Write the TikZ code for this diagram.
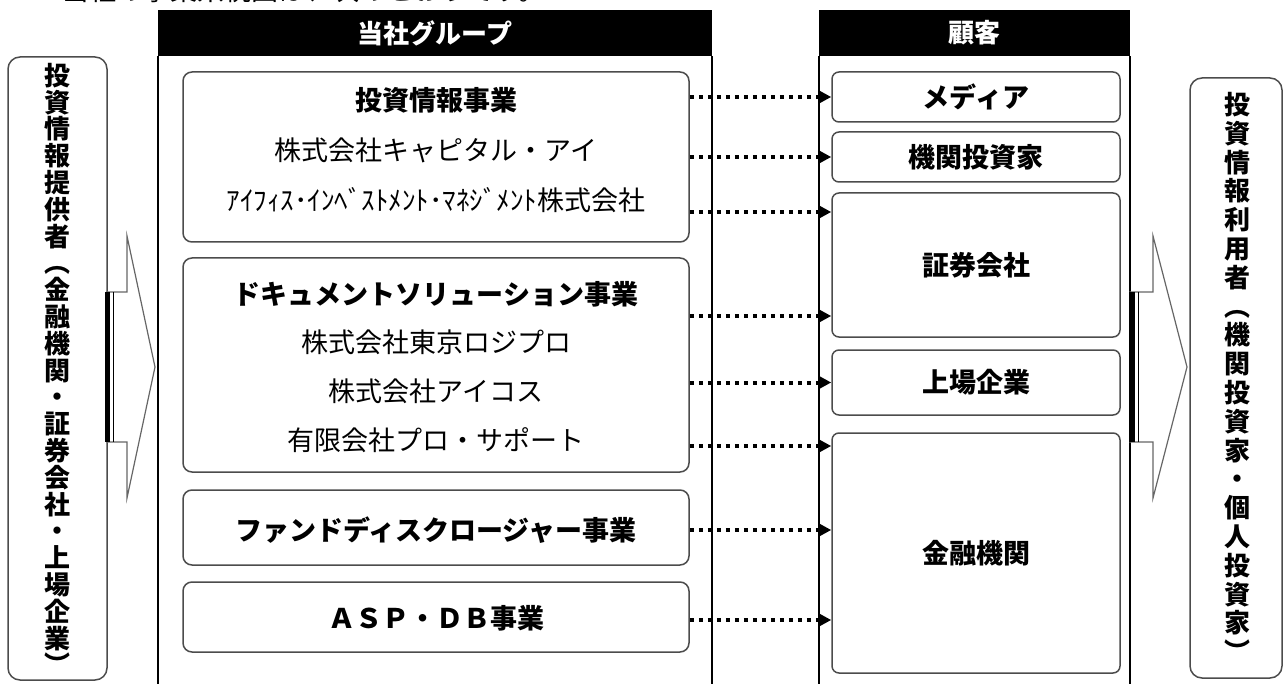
\documentclass[tikz,border=0pt]{standalone}
\usepackage{fontspec}
\setmainfont{Noto Sans CJK JP}
\usetikzlibrary{arrows.meta}

\begin{document}
\begin{tikzpicture}[x=1pt,y=-1pt,
		grp/.style={draw=black!70,line width=1.5pt,rounded corners=9pt,inner sep=0pt,minimum width=506pt},
		cust/.style={draw=black!70,line width=1.5pt,rounded corners=7pt,inner sep=0pt,minimum width=288pt,font=\fontsize{27}{27}\selectfont\bfseries},
		side/.style={draw=black!70,line width=1.5pt,rounded corners=12pt,inner sep=0pt},
		head/.style={fill=black,text=white,inner sep=0pt,minimum height=46pt,font=\fontsize{26}{26}\selectfont\bfseries},
		vtext/.style={align=center,inner sep=0pt,font=\fontsize{26}{26.8}\selectfont\bfseries},
		biz/.style={inner sep=0pt,font=\fontsize{27}{27}\selectfont\bfseries},
		firm/.style={inner sep=0pt,font=\fontsize{27}{27}\selectfont},
		flow/.style={draw=black,line width=4pt,dash pattern=on 4pt off 5pt,-{Triangle[length=13pt,width=13pt]}},
		bigarrow/.style={draw=black!60,line width=1.2pt,fill=white}]

			\clip (0,0) rectangle (1284,684);

			\node[firm,anchor=base west] (intro) at (62,1) {当社の事業系統図は、次のとおりです。};

			% column headers and frames
			\node[head,minimum width=554pt] (grphd) at (435,33) {当社グループ};
			\node[head,minimum width=311pt] (cushd) at (974.5,33) {顧客};
			\draw[line width=1.5pt] (grphd.south west) -- ++(0,660);
			\draw[line width=1.5pt] (grphd.south east) -- ++(0,660);
			\draw[line width=1.5pt] (cushd.south west) -- ++(0,660);
			\draw[line width=1.5pt] (cushd.south east) -- ++(0,660);

			% group businesses
			\node[grp,minimum height=170pt] (inv) at (436,157) {};
			\node[biz] (invname) at (436,100) {投資情報事業};
			\node[firm] (capi) at (436,150) {株式会社キャピタル・アイ};
			\node[firm] (ifis) at (436,200) {ｱｲﾌｨｽ･ｲﾝﾍﾞｽﾄﾒﾝﾄ･ﾏﾈｼﾞﾒﾝﾄ株式会社};

			\node[grp,minimum height=214pt] (doc) at (436,365) {};
			\node[biz] (docname) at (436,294) {ドキュメントソリューション事業};
			\node[firm] (logi) at (436,342) {株式会社東京ロジプロ};
			\node[firm] (icos) at (436,391) {株式会社アイコス};
			\node[firm] (prosup) at (436,440) {有限会社プロ・サポート};

			\node[grp,minimum height=75pt] (fund) at (436,527.5) {};
			\node[biz] (fundname) at (436,530) {ファンドディスクロージャー事業};

			\node[grp,minimum height=70pt] (asp) at (436,617) {};
			\node[biz] (aspname) at (436,618) {ＡＳＰ・ＤＢ事業};

			% customers
			\node[cust,minimum height=50pt] (media) at (976,97) {メディア};
			\node[cust,minimum height=50pt] (inst) at (976,157) {機関投資家};
			\node[cust,minimum height=144pt] (sec) at (976,265) {証券会社};
			\node[cust,minimum height=65pt] (listed) at (976,382.5) {上場企業};
			\node[cust,minimum height=240pt] (bank) at (976,553) {金融機関};

			% providers and users
			\node[side,minimum width=99pt,minimum height=623pt] (prov) at (57.5,368.5) {};
			\node[vtext] (provtxt) at (57.5,369) {投\\資\\情\\報\\提\\供\\者\\︵\\金\\融\\機\\関\\・\\証\\券\\会\\社\\・\\上\\場\\企\\業\\︶};
			\node[side,minimum width=92pt,minimum height=600pt] (user) at (1236,378) {};
			\node[vtext,font=\fontsize{26}{28.8}\selectfont\bfseries] (usertxt) at (1237,377) {投\\資\\情\\報\\利\\用\\者\\︵\\機\\関\\投\\資\\家\\・\\個\\人\\投\\資\\家\\︶};

			% block arrows
			\draw[bigarrow] (107,292) -- (127,292) -- (127,236) -- (155,367) -- (127,498) -- (127,442) -- (107,442) -- cycle;
			\fill[black] (105,292) rectangle (110,442);
			\draw[thick] (113,292) -- (113,442);
			\draw[bigarrow] (1130,292) -- (1153,292) -- (1153,236) -- (1187,367) -- (1153,498) -- (1153,442) -- (1130,442) -- cycle;
			\fill[black] (1129,292) rectangle (1135,442);
			\draw[thick] (1138,292) -- (1138,442);

			% flows
			\draw[flow] (inv.east |- media) -- (media.west);
			\draw[flow] (inv.east |- inst) -- (inst.west);
			\draw[flow] (inv.east |- 0,212) -- (sec.west |- 0,212);
			\draw[flow] (doc.east |- 0,316) -- (sec.west |- 0,316);
			\draw[flow] (doc.east |- listed) -- (listed.west);
			\draw[flow] (doc.east |- 0,446) -- (bank.west |- 0,446);
			\draw[flow] (fund.east |- 0,530) -- (bank.west |- 0,530);
			\draw[flow] (asp.east |- 0,620) -- (bank.west |- 0,620);

		\end{tikzpicture}
\end{document}
